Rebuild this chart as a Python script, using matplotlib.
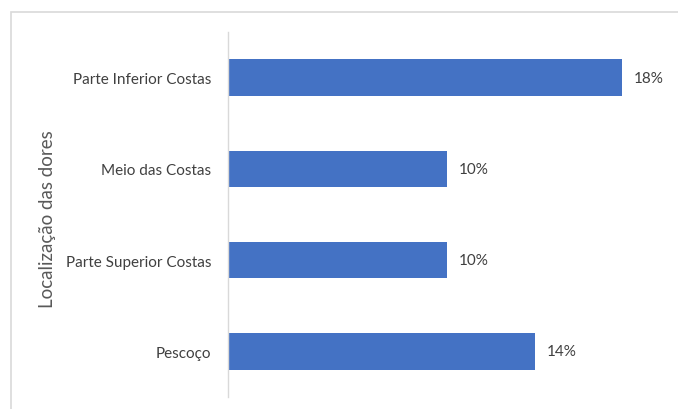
import matplotlib.pyplot as plt
from matplotlib.patches import Rectangle

# dados (de baixo pra cima)
categorias = ['Pescoço', 'Parte Superior Costas', 'Meio das Costas', 'Parte Inferior Costas']
valores = [14, 10, 10, 18]
rotulos = ['14%', '10%', '10%', '18%']

plt.rcParams['font.family'] = ['Lato', 'DejaVu Sans']
cinza = '#595959'

fig = plt.figure(figsize=(6.78, 4.10), dpi=100)
W, H = 678, 410

# moldura cinza clarinha em volta do grafico
fig.patches.append(Rectangle((11 / W, -0.1), 1.2, 1 - 12.5 / H + 0.1,
                             transform=fig.transFigure, fill=False,
                             edgecolor='#d9d9d9', linewidth=1.2))

ax = fig.add_axes([228 / W, 12 / H, 438 / W, 365 / H])
ypos = range(len(categorias))
bars = ax.barh(ypos, valores, height=0.4, color='#4472C4')

for bar, txt in zip(bars, rotulos):
    ax.text(bar.get_width() + 0.55, bar.get_y() + bar.get_height() / 2, txt,
            va='center', ha='left', fontsize=11, color='#404040')

ax.set_yticks(list(ypos))
ax.set_yticklabels(categorias, fontsize=11, color='#404040')
ax.set_ylim(-0.5, len(categorias) - 0.5)
ax.set_xlim(0, 20)
ax.set_xticks([])
ax.tick_params(axis='y', length=0, pad=12)

for lado in ['top', 'right', 'bottom']:
    ax.spines[lado].set_visible(False)
ax.spines['left'].set_color('#d9d9d9')
ax.spines['left'].set_linewidth(1.0)

fig.text(48 / W, 1 - 219 / H, 'Localização das dores', rotation=90,
         ha='center', va='center', fontsize=13.5, color=cinza)

fig.savefig('out.png', dpi=100)
